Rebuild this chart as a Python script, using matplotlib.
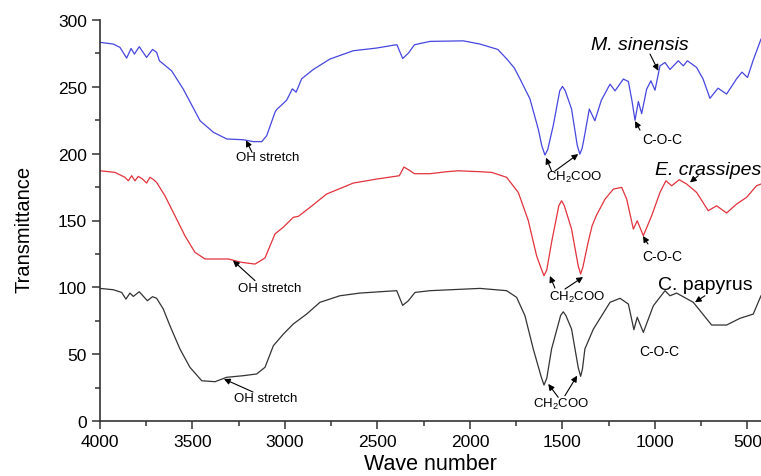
import matplotlib
matplotlib.use("Agg")
import matplotlib.pyplot as plt
from matplotlib.ticker import MultipleLocator

plt.rcParams["font.family"] = ["Liberation Sans", "DejaVu Sans"]
plt.rcParams["mathtext.fontset"] = "custom"
plt.rcParams["mathtext.rm"] = "Liberation Sans"

BLUE, RED, BLACK = "#4646e0", "#e2323c", "#333333"

# --- spectra (wave number, transmittance) -----------------------------------
ms_wn = [4000, 3928, 3892, 3856, 3832, 3814, 3788, 3748, 3716, 3694, 3679, 3613,
         3550, 3459, 3387, 3315, 3225, 3171, 3126, 3099, 3054, 3045, 2991, 2960,
         2940, 2910, 2847, 2757, 2631, 2505, 2420, 2395, 2364, 2333, 2300, 2216,
         2036, 1946, 1850, 1802, 1760, 1730, 1676, 1631, 1612, 1595, 1580, 1550,
         1515, 1500, 1485, 1451, 1420, 1406, 1394, 1384, 1355, 1325, 1290, 1243,
         1216, 1171, 1144, 1125, 1108, 1090, 1072, 1045, 1022, 1000, 973, 946,
         919, 874, 847, 825, 775, 740, 703, 659, 613, 559, 530, 500, 469, 427]
ms_t = [283.3, 282, 279.5, 271.5, 278.7, 274.5, 280, 272, 278, 275.8, 269.5, 262,
        248.3, 224.6, 216, 211, 210.4, 209, 209, 213.4, 231, 233, 240, 248.5,
        246, 256, 263, 270.8, 277, 279, 281, 281.5, 271.2, 275.2, 281.5, 284,
        284.4, 282, 278, 271, 264, 256, 241, 218.4, 206, 199, 203, 221,
        247, 250.3, 247, 233.4, 206, 199.7, 204, 211, 233.4, 224.6, 240, 252,
        247, 255.8, 254, 240, 225, 239, 230, 248.3, 254.5, 247.5, 265.7, 268.2,
        263, 269.5, 265.7, 269.5, 264.5, 255.8, 241.4, 249, 244.6, 256, 261, 257,
        270, 285.7]

ec_wn = [4000, 3919, 3865, 3847, 3829, 3811, 3793, 3770, 3748, 3730, 3710, 3694,
         3649, 3595, 3541, 3487, 3432, 3306, 3235, 3162, 3117, 3108, 3054, 3009,
         2955, 2928, 2865, 2775, 2631, 2505, 2382, 2357, 2333, 2300, 2216, 2126,
         2063, 1946, 1883, 1802, 1739, 1685, 1640, 1615, 1600, 1585, 1559, 1520,
         1505, 1490, 1451, 1415, 1402, 1390, 1361, 1340, 1316, 1270, 1225, 1180,
         1153, 1117, 1096, 1063, 1018, 973, 941, 910, 869, 829, 775, 712, 667,
         613, 559, 505, 451, 427]
ec_t = [187.2, 186, 182.3, 179.7, 183.5, 179.7, 183, 181, 178, 182.3, 180.5, 178.5,
        168.5, 153.6, 138.6, 126.2, 121.2, 121.2, 118.7, 117.4, 121.2, 122, 140, 145,
        152.4, 153.1, 159.8, 169.8, 178, 181, 183.5, 190, 188, 185, 185, 186.5,
        187.2, 186.5, 186, 182.3, 171, 150, 123.6, 114, 108.7, 113, 133.7, 161,
        164.8, 161, 143.6, 116, 110, 115, 134, 146, 154, 166, 173.5, 174.8,
        166, 143.6, 149.8, 138.6, 153.6, 171, 179.7, 176, 180.5, 177.3, 171, 157.3,
        161, 155.6, 162.3, 167.3, 176, 177.3]

cp_wn = [4000, 3928, 3883, 3860, 3838, 3820, 3788, 3744, 3716, 3694, 3658, 3622,
         3568, 3514, 3450, 3378, 3315, 3225, 3153, 3108, 3063, 3009, 2955, 2883,
         2811, 2703, 2595, 2486, 2396, 2364, 2333, 2297, 2216, 1946, 1802, 1748,
         1703, 1658, 1615, 1600, 1585, 1559, 1510, 1496, 1482, 1451, 1415, 1402,
         1392, 1379, 1333, 1243, 1189, 1144, 1114, 1096, 1063, 1009, 946, 919,
         883, 793, 694, 613, 541, 469, 427]
cp_t = [99.2, 98.2, 96.2, 91.2, 95.7, 93.2, 96.7, 90, 93, 91.8, 83.8, 71.3,
        53.9, 40.2, 30.1, 29.4, 32.7, 33.9, 35.2, 40.2, 56.3, 65, 72.6, 80,
        88.8, 93.7, 95.7, 96.7, 97.5, 86.5, 90, 96.2, 97.5, 99.2, 97.5, 92.5,
        78.8, 53.9, 33, 26.9, 32, 53.9, 79, 81.7, 79, 68.8, 40, 33.4,
        39, 53.9, 68.8, 88.8, 91.8, 87.5, 68.3, 77.6, 66.3, 86.2, 97.5, 93.7,
        95.7, 88.8, 71.8, 71.8, 76.8, 80, 93.7]

fig = plt.figure(figsize=(7.61, 4.77), dpi=100)
ax = fig.add_axes([100 / 761, 55 / 477, 661 / 761, 401 / 477])

ax.plot(ms_wn, ms_t, color=BLUE, lw=0.9)
ax.plot(ec_wn, ec_t, color=RED, lw=0.9)
ax.plot(cp_wn, cp_t, color=BLACK, lw=0.9)

ax.set_xlim(4000, 427)
ax.set_ylim(0, 300)
ax.xaxis.set_major_locator(MultipleLocator(500))
ax.xaxis.set_minor_locator(MultipleLocator(250))
ax.yaxis.set_major_locator(MultipleLocator(50))
ax.yaxis.set_minor_locator(MultipleLocator(25))
ax.tick_params(which="major", direction="out", length=6, width=1.1, labelsize=12.5,
               color="#333333")
ax.tick_params(which="minor", direction="out", length=3.5, width=1.1, color="#333333")
ax.spines[["top", "right"]].set_visible(False)
for s in ("left", "bottom"):
    ax.spines[s].set_linewidth(1.2)
    ax.spines[s].set_color("#333333")

ax.set_xlabel("Wave number", fontsize=15.5)
ax.set_ylabel("Transmittance", fontsize=14.5)
ax.xaxis.set_label_coords(0.5, -0.08)
ax.yaxis.set_label_coords(-0.1, 0.48)

arrow = dict(arrowstyle="-|>", color="black", lw=0.8, mutation_scale=9,
             shrinkA=0, shrinkB=0)

def point(head, tail):
    ax.annotate("", xy=head, xytext=tail, arrowprops=arrow)

# OH stretch
for xy, head, tail in [((3095, 197.5), (3211, 210), (3178, 201)),
                       ((3081, 99.5), (3281, 120), (3162, 105)),
                       ((3103, 17.2), (3330, 31.4), (3173, 21.7))]:
    ax.text(*xy, "OH stretch", fontsize=9.5, ha="center", va="center")
    point(head, tail)

# CH2COO
for xy, heads, tails in [((1438, 183), [(1589, 197), (1415, 199.7)], [(1559, 187), (1541, 187)]),
                         ((1422, 93.5), [(1568, 108.5), (1389, 107.7)], [(1541, 99.5), (1487, 98.7)]),
                         ((1508, 13.5), [(1577, 27.7), (1421, 33.9)], [(1523, 17.7), (1487, 18.9)])]:
    ax.text(*xy, r"CH$_2$COO", fontsize=9.5, ha="center", va="center")
    for h, t in zip(heads, tails):
        point(h, t)

# C-O-C
ax.text(962, 211, "C-O-C", fontsize=10, ha="center", va="center")
point((1108, 224.4), (1081, 217.6))
ax.text(962, 123.4, "C-O-C", fontsize=10, ha="center", va="center")
point((1065, 138.4), (1038, 132.4))
ax.text(979, 52.4, "C-O-C", fontsize=10, ha="center", va="center")

# species labels
ax.text(1084, 281.6, "M. sinensis", fontsize=14, style="italic", ha="center", va="center")
point((982, 262), (1027, 274.5))
ax.text(1000, 188.5, "E. crassipes", fontsize=14, style="italic", ha="left", va="center",
        clip_on=False)
point((811, 178.5), (766, 183.5))
ax.text(984, 102, "C. papyrus", fontsize=14, ha="left", va="center")
point((784, 88.8), (730, 93.7))

fig.savefig("out.png", dpi=100)
